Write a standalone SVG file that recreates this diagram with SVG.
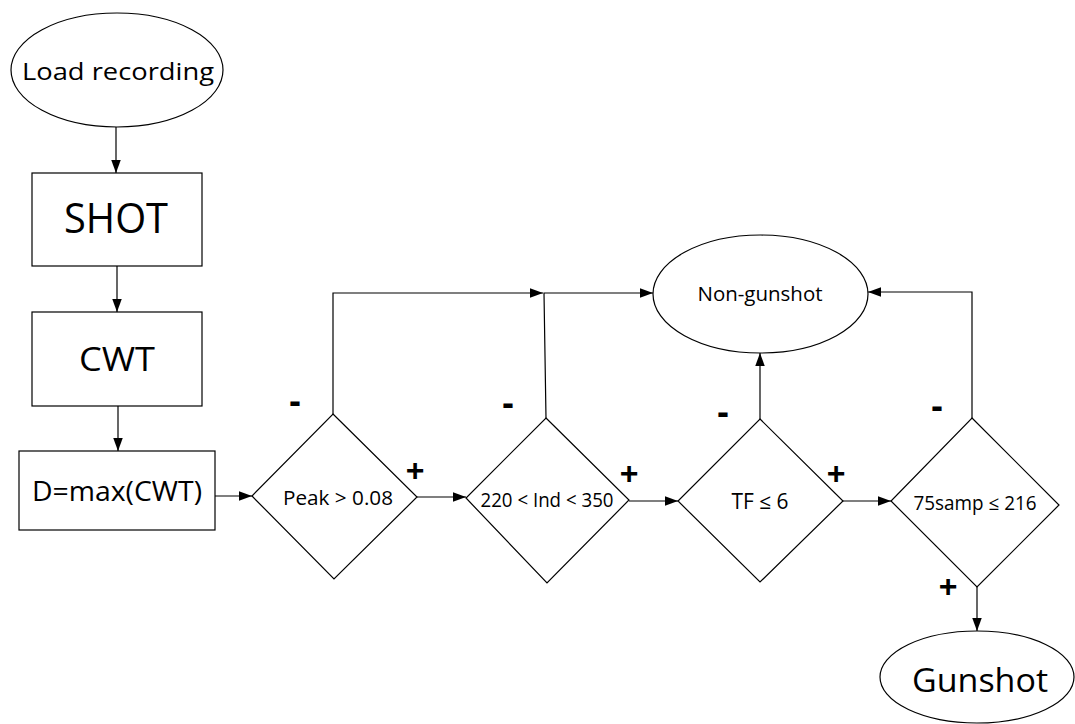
<svg xmlns="http://www.w3.org/2000/svg" width="1075" height="724" viewBox="0 0 1075 724">
<style>
.s{fill:#fff;stroke:#000;stroke-width:1.2}
.c{fill:none;stroke:#000;stroke-width:1.2}
.t{font-family:"Open Sans","Liberation Sans",Arial,sans-serif;fill:#000;text-anchor:middle}
.sg{font-family:"Liberation Sans",Arial,sans-serif;font-weight:bold;fill:#000;text-anchor:middle}
.p{font-size:32px}
.m{font-size:36px}
</style>
<defs>
<marker id="a" markerUnits="userSpaceOnUse" markerWidth="14" markerHeight="10" refX="13" refY="4.75" orient="auto">
<path d="M0,0 L13,4.75 L0,9.5 z" fill="#000"/>
</marker>
</defs>
<rect width="1075" height="724" fill="#fff"/>
<g id="connectors">
<path class="c" d="M116,127 V173" marker-end="url(#a)"/>
<path class="c" d="M117,266 V312" marker-end="url(#a)"/>
<path class="c" d="M118,406 V451" marker-end="url(#a)"/>
<path class="c" d="M215,496 H252" marker-end="url(#a)"/>
<path class="c" d="M417,497 H466" marker-end="url(#a)"/>
<path class="c" d="M629,501 H678" marker-end="url(#a)"/>
<path class="c" d="M843,501 H891" marker-end="url(#a)"/>
<path class="c" d="M333,414 V293 H543" marker-end="url(#a)"/>
<path class="c" d="M546,418 L544,293 H653" marker-end="url(#a)"/>
<path class="c" d="M760,419 V353" marker-end="url(#a)"/>
<path class="c" d="M972,418 V292 H868" marker-end="url(#a)"/>
<path class="c" d="M977,587 V631" marker-end="url(#a)"/>
</g>
<g id="load">
<ellipse class="s" cx="117" cy="70" rx="106" ry="57"/>
<text class="t" x="118" y="80" font-size="24" textLength="192" lengthAdjust="spacingAndGlyphs">Load recording</text>
</g>
<g id="shot">
<rect class="s" x="32" y="173" width="170" height="93"/>
<text class="t" x="116" y="233" font-size="42" textLength="104" lengthAdjust="spacingAndGlyphs">SHOT</text>
</g>
<g id="cwt">
<rect class="s" x="32" y="312" width="170" height="94"/>
<text class="t" x="117" y="371" font-size="33" textLength="76" lengthAdjust="spacingAndGlyphs">CWT</text>
</g>
<g id="dmax">
<rect class="s" x="19" y="451" width="196" height="79"/>
<text class="t" x="117" y="501" font-size="28" textLength="170" lengthAdjust="spacingAndGlyphs">D=max(CWT)</text>
</g>
<g id="peak">
<polygon class="s" points="333,414 417,497 334,579 252,496"/>
<text class="t" x="338" y="505" font-size="19.5" textLength="110" lengthAdjust="spacingAndGlyphs">Peak &gt; 0.08</text>
</g>
<g id="ind">
<polygon class="s" points="546,418 629,500 547,583 466,498"/>
<text class="t" x="547" y="507" font-size="19.5" textLength="133" lengthAdjust="spacingAndGlyphs">220 &lt; Ind &lt; 350</text>
</g>
<g id="tf">
<polygon class="s" points="760,419 843,501 760,582 678,501"/>
<text class="t" x="760" y="509" font-size="21" textLength="57" lengthAdjust="spacingAndGlyphs">TF ≤ 6</text>
</g>
<g id="samp">
<polygon class="s" points="972,418 1059,505 977,587 891,501"/>
<text class="t" x="975" y="510" font-size="19.5" textLength="123" lengthAdjust="spacingAndGlyphs">75samp ≤ 216</text>
</g>
<g id="nongunshot">
<ellipse class="s" cx="760.5" cy="294" rx="107.5" ry="59"/>
<text class="t" x="760" y="301" font-size="20" textLength="125" lengthAdjust="spacingAndGlyphs">Non-gunshot</text>
</g>
<g id="gunshot">
<ellipse class="s" cx="977" cy="677" rx="97" ry="46"/>
<text class="t" x="980" y="692" font-size="32" textLength="136" lengthAdjust="spacingAndGlyphs">Gunshot</text>
</g>
<g id="labels">
<text class="sg m" x="295" y="413">-</text>
<text class="sg p" x="415" y="481">+</text>
<text class="sg m" x="508" y="415">-</text>
<text class="sg p" x="629" y="484">+</text>
<text class="sg m" x="723" y="424">-</text>
<text class="sg p" x="836" y="484">+</text>
<text class="sg m" x="937" y="418">-</text>
<text class="sg p" x="948" y="597">+</text>
</g>
</svg>
